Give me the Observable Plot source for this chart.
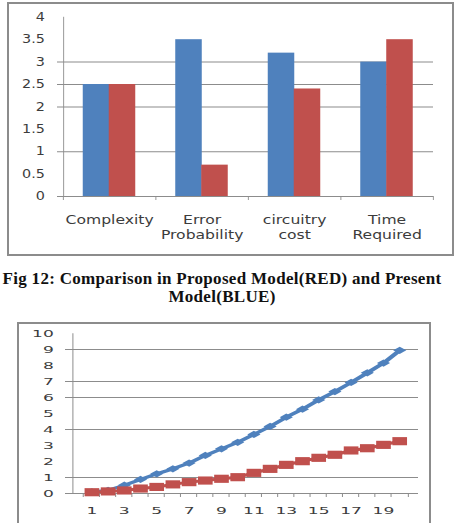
<!DOCTYPE html>
<html>
<head>
<meta charset="utf-8">
<script src="https://cdn.jsdelivr.net/npm/d3@7"></script>
<script src="https://cdn.jsdelivr.net/npm/@observablehq/plot@0.6"></script>
<style>
  html, body { margin: 0; padding: 0; background: #fff; overflow: hidden; }
  #page { position: relative; width: 455px; height: 523px; overflow: hidden; background: #fff; }
  .box { position: absolute; border: 2px solid #8c8c8c; background: #fff; overflow: hidden; }
  .box svg { display: block; }
  .cap {
    position: absolute; left: 0; width: 444px; text-align: center;
    font-family: "Liberation Serif", "Times New Roman", serif; font-weight: bold;
    font-size: 17px; letter-spacing: 0.3px; line-height: 1; color: #111; white-space: nowrap;
  }
</style>
</head>
<body>
<div id="page">
  <div class="box" id="bars" style="left:7px; top:2px; width:443px; height:250px;"></div>
  <div class="cap" style="top:270px;">Fig 12: Comparison in Proposed Model(RED) and Present</div>
  <div class="cap" style="top:288px;">Model(BLUE)</div>
  <div class="box" id="lines" style="left:17px; top:322px; width:410px; height:205px;"></div>
</div>
<script>
// ---- Bar chart data ----
const categories = ["Complexity", "Error\nProbability", "circuitry\ncost", "Time\nRequired"];
const presentModel = [2.5, 3.5, 3.2, 3.0];   // BLUE
const proposedModel = [2.5, 0.7, 2.4, 3.5];  // RED
const barTicks = [0, 0.5, 1, 1.5, 2, 2.5, 3, 3.5, 4];
const barGrid = [0, 1, 2, 2.5, 3];

// ---- Line chart data ----
const stepIndex = [1, 2, 3, 4, 5, 6, 7, 8, 9, 10, 11, 12, 13, 14, 15, 16, 17, 18, 19, 20];
const stepLabels = [1, 3, 5, 7, 9, 11, 13, 15, 17, 19];
const presentSeries = [0.1, 0.2, 0.52, 0.88, 1.23, 1.54, 1.9, 2.38, 2.79, 3.2, 3.69, 4.19, 4.77, 5.27, 5.85, 6.37, 6.94, 7.54, 8.15, 8.95];
const proposedSeries = [0.08, 0.13, 0.19, 0.31, 0.41, 0.57, 0.71, 0.81, 0.92, 1.02, 1.29, 1.54, 1.79, 2.02, 2.23, 2.42, 2.69, 2.83, 3.04, 3.27];
const lineTicks = [0, 1, 2, 3, 4, 5, 6, 7, 8, 9, 10];
const lineGrid = [0, 1, 4, 6, 7, 9];

const BLUE = "#4F81BD";
const RED = "#C0504D";
const GRAY = "#8c8c8c";
const INK = "#3c3c3c";

// Stretch a Plot svg horizontally to a display width.
function stretch(svg, displayW, h) {
  svg.setAttribute("width", displayW);
  svg.setAttribute("height", h);
  svg.setAttribute("preserveAspectRatio", "none");
  svg.style.width = displayW + "px";
  svg.style.height = h + "px";
  svg.style.maxWidth = "none";
  return svg;
}

// ---- Bar chart ----
{
  const s = 1.25, W = 443, H = 250;
  const w = W / s, mL = 54 / s, mR = 19 / s, mT = 12.8, mB = 58;
  const pi = 0.438, po = 0.219;
  const step = (w - mL - mR) / (categories.length - pi + 2 * po);
  const bw = step * (1 - pi);
  const rows = categories.map((c, i) => ({category: c, present: presentModel[i], proposed: proposedModel[i]}));
  const svg = Plot.plot({
    width: w, height: H,
    marginLeft: mL, marginRight: mR, marginTop: mT, marginBottom: mB,
    style: {fontFamily: "DejaVu Sans", background: "#fff", color: INK},
    x: {domain: categories, paddingInner: pi, paddingOuter: po},
    y: {domain: [0, 4]},
    marks: [
      Plot.ruleY(barGrid, {stroke: GRAY, strokeWidth: 1, insetLeft: -6 / s}),
      Plot.frame({anchor: "left", stroke: GRAY, strokeWidth: 1 / s}),
      Plot.barY(rows, {x: "category", y: "present", fill: BLUE, insetRight: bw / 2}),
      Plot.barY(rows, {x: "category", y: "proposed", fill: RED, insetLeft: bw / 2}),
      Plot.axisX({ticks: categories, tickSize: 4, tickFormat: () => "", dx: -step / 2, stroke: GRAY, strokeWidth: 1 / s, label: null}),
      Plot.axisX({ticks: categories.slice(-1), tickSize: 4, tickFormat: () => "", dx: step / 2, stroke: GRAY, strokeWidth: 1 / s, label: null}),
      Plot.axisX({tickSize: 0, tickPadding: 16.5, fontSize: 12.5, lineHeight: 1.22, fill: INK, label: null}),
      Plot.axisY({ticks: barTicks, tickSize: 0, tickPadding: 15, fontSize: 11.5, fill: INK, label: null, tickFormat: (d) => String(d)})
    ]
  });
  document.getElementById("bars").appendChild(stretch(svg, W, H));
}

// ---- Line chart ----
{
  const s = 1.8, W = 410, H = 205;
  const w = W / s, mL = 53 / s, mR = 11 / s, mT = 9, mB = 36;
  const step = (w - mL - mR) / stepIndex.length;
  const rows = stepIndex.map((k, i) => ({step: k, present: presentSeries[i], proposed: proposedSeries[i]}));
  const svg = Plot.plot({
    width: w, height: H,
    marginLeft: mL, marginRight: mR, marginTop: mT, marginBottom: mB,
    style: {fontFamily: "DejaVu Sans", background: "#fff", color: INK},
    x: {type: "point", domain: stepIndex, padding: 0.5},
    y: {domain: [0, 10]},
    marks: [
      Plot.ruleY(lineGrid, {stroke: GRAY, strokeWidth: 1, insetLeft: -7 / s}),
      Plot.frame({anchor: "left", stroke: GRAY, strokeWidth: 1 / s}),
      Plot.axisX({ticks: stepIndex, tickSize: 4, tickFormat: () => "", dx: -step / 2, stroke: GRAY, strokeWidth: 1 / s, label: null}),
      Plot.axisX({ticks: stepIndex.slice(-1), tickSize: 4, tickFormat: () => "", dx: step / 2, stroke: GRAY, strokeWidth: 1 / s, label: null}),
      Plot.axisX({ticks: stepLabels, tickSize: 0, tickPadding: 13.6, fontSize: 9.5, fill: INK, label: null}),
      Plot.axisY({ticks: lineTicks, tickSize: 0, tickPadding: 10.6, fontSize: 9.5, fill: INK, label: null}),
      Plot.line(rows, {x: "step", y: "present", stroke: BLUE, strokeWidth: 3}),
      Plot.dot(rows, {x: "step", y: "present", symbol: "diamond2", r: 3.3, fill: BLUE, stroke: "none"}),
      Plot.line(rows, {x: "step", y: "proposed", stroke: RED, strokeWidth: 3}),
      Plot.dot(rows, {x: "step", y: "proposed", symbol: "square", r: 4.6, fill: RED, stroke: "none"})
    ]
  });
  document.getElementById("lines").appendChild(stretch(svg, W, H));
}
</script>
</body>
</html>
